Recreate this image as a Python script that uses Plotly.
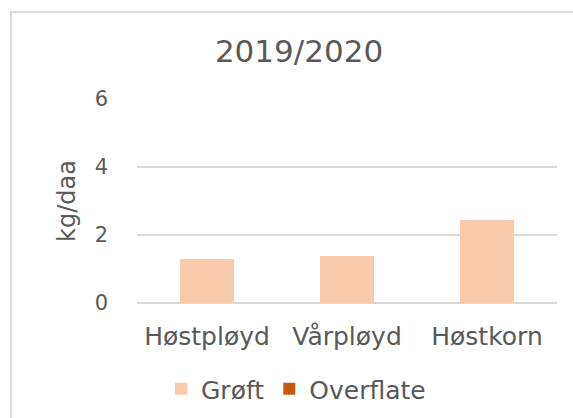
import plotly.graph_objects as go

# Phosphorus loss per treatment, season 2019/2020
categories = ["Høstpløyd", "Vårpløyd", "Høstkorn"]
groft = [1.29, 1.37, 2.45]
overflate = [0.0, 0.0, 0.0]
y_ticks = [0, 2, 4, 6]

TEXT = "#595959"
GRID = "#D9D9D9"
FONT = "DejaVu Sans"

fig = go.Figure()
fig.add_trace(go.Bar(name="Grøft", x=categories, y=groft,
                     marker=dict(color="#F8CBAD", line=dict(width=0)), width=0.39))
fig.add_trace(go.Bar(name="Overflate", x=categories, y=overflate,
                     marker=dict(color="#C55A11", line=dict(width=0)), width=0.39))

# plot-area geometry in pixels (used to place the outer chart border)
W, H = 573, 418
L, R, T, B = 137, 16, 99, 115
pw, ph = W - L - R, H - T - B

def px_x(v):
    return (v - L) / pw

def px_y(v):
    return (H - B - v) / ph

fig.update_layout(
    width=W, height=H, autosize=False,
    margin=dict(l=L, r=R, t=T, b=B),
    paper_bgcolor="white", plot_bgcolor="white",
    barmode="stack",
    font=dict(family=FONT, color=TEXT),
    title=dict(text="2019/2020", font=dict(size=31, color=TEXT, family=FONT),
               x=299 / W, xref="container", xanchor="center",
               y=1 - 51 / H, yref="container", yanchor="middle"),
    xaxis=dict(showgrid=False, showline=False, zeroline=False, ticks="",
               tickfont=dict(size=25, color=TEXT), ticklabelstandoff=16),
    yaxis=dict(range=[0, 6], tickvals=y_ticks, showgrid=True, gridcolor=GRID,
               gridwidth=1.5, zeroline=True, zerolinecolor=GRID, zerolinewidth=1.5,
               showline=False, ticks="", tickfont=dict(size=21, color=TEXT),
               ticklabelstandoff=28,
               title=dict(text="kg/daa", font=dict(size=24, color=TEXT), standoff=12)),
    legend=dict(orientation="h", x=296 / W, xref="container", xanchor="center",
                y=1 - 389 / H, yref="container", yanchor="middle",
                font=dict(size=25, color=TEXT), traceorder="normal",
                itemclick=False, bgcolor="rgba(0,0,0,0)"),
    showlegend=True,
    shapes=[dict(type="rect", xref="paper", yref="paper",
                 x0=px_x(11), x1=px_x(620), y0=px_y(460), y1=px_y(12),
                 line=dict(color=GRID, width=2), fillcolor="rgba(0,0,0,0)",
                 layer="below")],
)

fig.write_html("out.html")
